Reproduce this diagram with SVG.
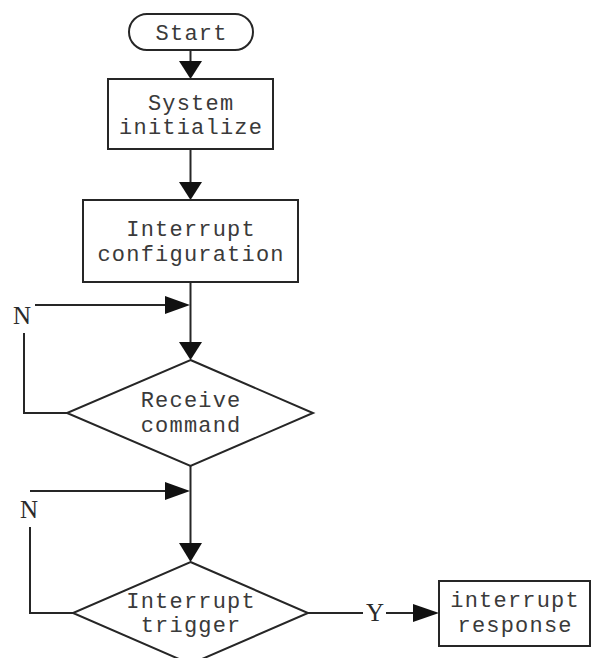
<svg xmlns="http://www.w3.org/2000/svg" width="596" height="658" viewBox="0 0 596 658">
<style>
.s{fill:none;stroke:#262626;stroke-width:2}
.b{fill:#fff;stroke:#262626;stroke-width:2}
.t{font-family:"Liberation Mono",monospace;font-size:22px;fill:#3a3a3a;text-anchor:middle;letter-spacing:1.2px}
.l{font-family:"Liberation Serif",serif;font-size:25px;fill:#2a2a2a;text-anchor:middle}
.a{fill:#111}
</style>
<rect width="596" height="658" fill="#fff"/>
<g id="connectors">
<line class="s" x1="190.5" y1="50" x2="190.5" y2="62"/>
<polygon class="a" points="179,61 202,61 190.5,79"/>
<line class="s" x1="190.5" y1="149" x2="190.5" y2="183"/>
<polygon class="a" points="179,182 202,182 190.5,200"/>
<line class="s" x1="190.5" y1="282" x2="190.5" y2="343"/>
<polygon class="a" points="179,342 202,342 190.5,360"/>
<polyline class="s" points="67,413 24,413 24,333"/>
<line class="s" x1="35" y1="305" x2="166" y2="305"/>
<polygon class="a" points="165,296 165,314 190,305"/>
<line class="s" x1="190.5" y1="466" x2="190.5" y2="544"/>
<polygon class="a" points="179,543 202,543 190.5,562"/>
<polyline class="s" points="73,613 30,613 30,527"/>
<line class="s" x1="30" y1="491" x2="166" y2="491"/>
<polygon class="a" points="165,482 165,500 190,491"/>
<line class="s" x1="308" y1="613" x2="363" y2="613"/>
<line class="s" x1="386" y1="613" x2="414" y2="613"/>
<polygon class="a" points="413,604 413,622 439,613"/>
<text class="l" x="22" y="324">N</text>
<text class="l" x="29" y="518">N</text>
<text class="l" x="375" y="621">Y</text>
</g>
<g id="start">
<rect class="b" x="129" y="14" width="124" height="36" rx="18"/>
<text class="t" x="191.6" y="40">Start</text>
</g>
<g id="system-initialize">
<rect class="b" x="108" y="79" width="165" height="70"/>
<text class="t" x="191.1" y="110">System</text>
<text class="t" x="191.1" y="134">initialize</text>
</g>
<g id="interrupt-configuration">
<rect class="b" x="83" y="200" width="215" height="82"/>
<text class="t" x="191.1" y="236">Interrupt</text>
<text class="t" x="191.1" y="261">configuration</text>
</g>
<g id="receive-command">
<polygon class="b" points="190.5,360 313,413 190.5,466 67,413"/>
<text class="t" x="191.1" y="407">Receive</text>
<text class="t" x="191.1" y="432">command</text>
</g>
<g id="interrupt-trigger">
<polygon class="b" points="190.5,562 308,613 190.5,664 73,613"/>
<text class="t" x="191.1" y="608">Interrupt</text>
<text class="t" x="191.1" y="632">trigger</text>
</g>
<g id="interrupt-response">
<rect class="b" x="439" y="581" width="151" height="65"/>
<text class="t" x="515.1" y="607">interrupt</text>
<text class="t" x="515.1" y="632">response</text>
</g>
</svg>
